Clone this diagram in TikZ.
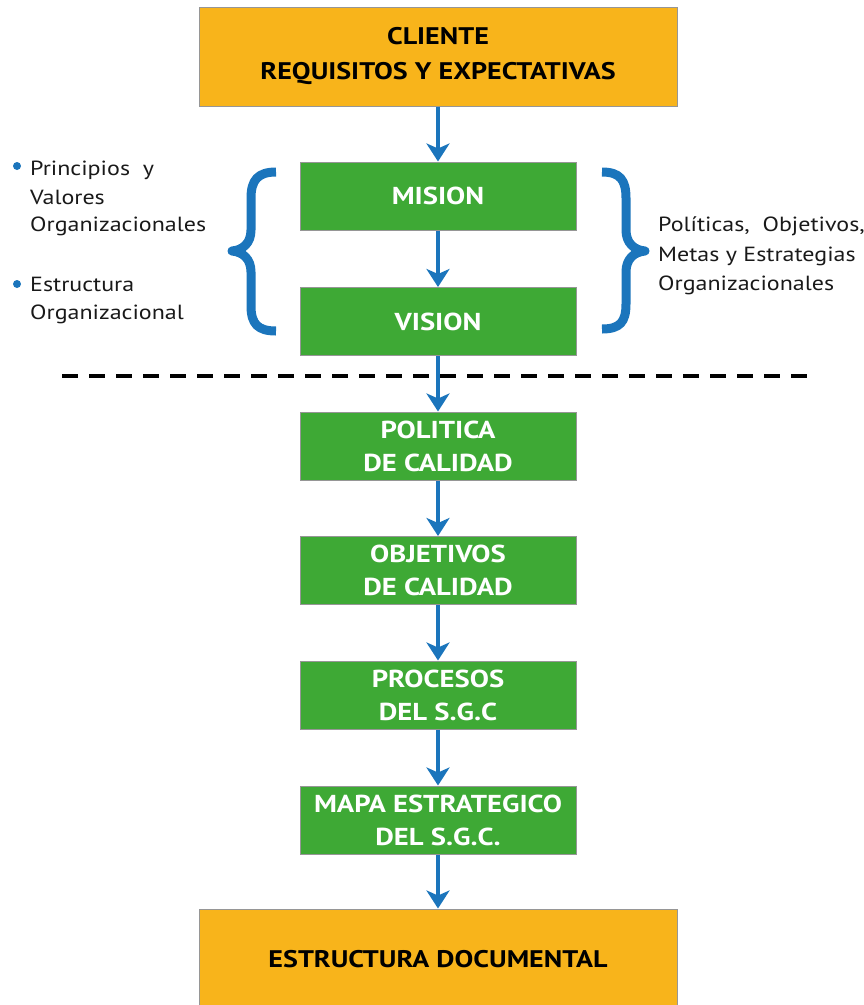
\documentclass[tikz,border=0pt]{standalone}
\usepackage{fontspec}
\setmainfont[FakeStretch=1.17]{PT Sans}
\usetikzlibrary{arrows.meta}
\definecolor{orangebox}{RGB}{248,180,27}
\definecolor{greenbox}{RGB}{62,169,53}
\definecolor{blueline}{RGB}{27,117,188}
\definecolor{bordergray}{RGB}{150,150,150}
\tikzset{
  orangenode/.style={draw=bordergray, line width=1pt, fill=orangebox, minimum width=478pt, inner sep=0pt, align=center, font=\bfseries\fontsize{24}{35}\selectfont, text=black},
  greennode/.style={draw=bordergray, line width=1pt, fill=greenbox, minimum width=276pt, minimum height=68pt, inner sep=0pt, align=center, font=\bfseries\fontsize{24.5}{33}\selectfont, text=white},
  flowarrow/.style={draw=blueline, line width=4pt, -{Stealth[length=18pt,width=23pt,inset=5pt]}},
  bracestyle/.style={draw=blueline, line width=9pt, line join=round},
  sidetext/.style={anchor=base west, inner sep=0pt, font=\fontsize{20.5}{28}\selectfont, text=black!90},
  bulletdot/.style={circle, fill=blueline, inner sep=0pt, minimum size=8pt}
}
\begin{document}
\begin{tikzpicture}[x=1pt,y=-1pt]
\useasboundingbox (0,0) rectangle (864,1005);
% boxes
\node[orangenode, minimum height=99pt] (cliente) at (438,56.5) {CLIENTE\\REQUISITOS Y EXPECTATIVAS};
\node[greennode] (mision) at (438,196) {MISION};
\node[greennode] (vision) at (438,321.5) {VISION};
\node[greennode] (politica) at (438,446) {POLITICA\\DE CALIDAD};
\node[greennode] (objetivos) at (438,570.5) {OBJETIVOS\\DE CALIDAD};
\node[greennode] (procesos) at (438,695) {PROCESOS\\DEL S.G.C};
\node[greennode] (mapa) at (438,820) {MAPA ESTRATEGICO\\DEL S.G.C.};
\node[orangenode, minimum height=101pt] (estructura) at (438,959.5) {ESTRUCTURA DOCUMENTAL};
% dashed separator
\coordinate (dashL) at (62,376);
\coordinate (dashR) at (812,376);
\draw[line width=4pt, dash pattern=on 16pt off 11pt] (dashL) -- (dashR);
% arrows
\draw[flowarrow] (cliente.south) -- (mision.north);
\draw[flowarrow] (mision.south) -- (vision.north);
\draw[flowarrow] (vision.south) -- (politica.north);
\draw[flowarrow] (politica.south) -- (objetivos.north);
\draw[flowarrow] (objetivos.south) -- (procesos.north);
\draw[flowarrow] (procesos.south) -- (mapa.north);
\draw[flowarrow] (mapa.south) -- (estructura.north);
% left brace
\draw[bracestyle] (276,172) .. controls (258,172) and (251,180) .. (251,198) -- (251,230)
  .. controls (251,243) and (243,250) .. (232,251)
  .. controls (243,252) and (251,259) .. (251,272) -- (251,306)
  .. controls (251,324) and (258,331) .. (276,331);
% right brace
\draw[bracestyle] (602,172) .. controls (620,172) and (626,180) .. (626,198) -- (626,230)
  .. controls (626,243) and (634,250) .. (645,251)
  .. controls (634,252) and (626,259) .. (626,272) -- (626,304)
  .. controls (626,322) and (620,329) .. (602,329);
% left texts
\node[bulletdot] (b1) at (17,166) {};
\node[sidetext] (l1) at (30,175) {Principios\ \ y};
\node[sidetext] (l2) at (30,204) {Valores};
\node[sidetext] (l3) at (30,231) {Organizacionales};
\node[bulletdot] (b2) at (17,284) {};
\node[sidetext] (l4) at (30,291) {Estructura};
\node[sidetext] (l5) at (30,319) {Organizacional};
% right texts
\node[sidetext] (r1) at (658,231) {Políticas,\ \ Objetivos,};
\node[sidetext] (r2) at (658,261) {Metas y Estrategias};
\node[sidetext] (r3) at (658,290) {Organizacionales};
\end{tikzpicture}
\end{document}
